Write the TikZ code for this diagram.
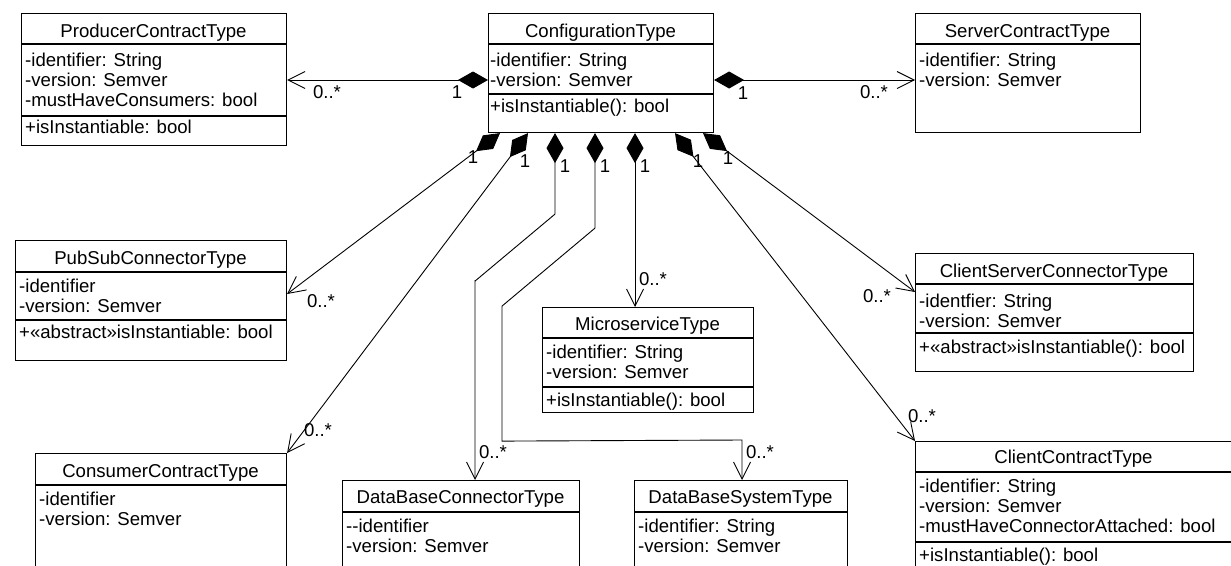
\documentclass[tikz,border=0pt]{standalone}
\usepackage{fontspec}
\setmainfont{Liberation Sans}
\usetikzlibrary{arrows.meta,calc}
\newcommand\umlfont{\fontsize{18.6}{20.3}\selectfont}
\tikzset{
  box/.style={draw, line width=1.1pt, inner sep=0pt, anchor=north west},
  sepline/.style={line width=1.1pt},
  txt/.style={inner sep=0pt, font=\umlfont, anchor=base west},
  ttl/.style={inner sep=0pt, font=\umlfont, anchor=base},
  lbl/.style={inner sep=0pt, font=\umlfont, anchor=center},
  comp/.style={line width=0.9pt,
    {Diamond[length=30pt,width=17pt]}-{Straight Barb[length=17pt,width=17pt]}},
}
% #1 name, #2 x1, #3 y1, #4 x2, #5 y2
\newcommand\umlbox[5]{%
  \node[box, minimum width={(#4-#2)*1pt}, minimum height={(#5-#3)*1pt}] (#1) at (#2,#3) {};}
% #1 prefix, #2 x, #3 first baseline, #4 list
\newcommand\umllines[4]{%
  \foreach \t [count=\i] in {#4}{\node[txt] (#1\i) at (#2,{#3+20.3*(\i-1)}) {\t};}}
\begin{document}
\begin{tikzpicture}[x=1pt,y=-1pt]
\useasboundingbox (0,0) rectangle (1231,565);
\fill[white] (0,0) rectangle (1231,565);

% ProducerContractType
\umlbox{prod}{21}{13}{286}{145}
\draw[sepline] (21,44) -- (286,44); \draw[sepline] (21,116) -- (286,116);
\node[ttl] (prodT) at (153.5,37) {ProducerContractType};
\umllines{prodA}{25}{66}{-identifier: String,-version: Semver,-mustHaveConsumers: bool}
\node[txt] (prodM) at (25,133) {+isInstantiable: bool};

% ConfigurationType
\umlbox{cfg}{488}{13}{713}{132}
\draw[sepline] (488,44) -- (713,44); \draw[sepline] (488,94) -- (713,94);
\node[ttl] (cfgT) at (600.5,37) {ConfigurationType};
\umllines{cfgA}{490}{66}{-identifier: String,-version: Semver}
\node[txt] (cfgM) at (490,112) {+isInstantiable(): bool};

% ServerContractType
\umlbox{srv}{915}{13}{1140}{132}
\draw[sepline] (915,44) -- (1140,44);
\node[ttl] (srvT) at (1027.5,37) {ServerContractType};
\umllines{srvA}{919}{66}{-identifier: String,-version: Semver}

% PubSubConnectorType
\umlbox{pub}{15}{240}{286}{360}
\draw[sepline] (15,272) -- (286,272); \draw[sepline] (15,320) -- (286,320);
\node[ttl] (pubT) at (150.5,264) {PubSubConnectorType};
\umllines{pubA}{19}{292}{-identifier,-version: Semver}
\node[txt] (pubM) at (19,338) {+«abstract»isInstantiable: bool};

% MicroserviceType
\umlbox{mic}{542}{307}{753}{412}
\draw[sepline] (542,338) -- (753,338); \draw[sepline] (542,387) -- (753,387);
\node[ttl] (micT) at (647.5,330) {MicroserviceType};
\umllines{micA}{546}{358}{-identifier: String,-version: Semver}
\node[txt] (micM) at (546,406) {+isInstantiable(): bool};

% ClientServerConnectorType
\umlbox{cs}{915}{253}{1193}{371}
\draw[sepline] (915,284) -- (1193,284); \draw[sepline] (915,333) -- (1193,333);
\node[ttl] (csT) at (1054,277) {ClientServerConnectorType};
\umllines{csA}{919}{307}{-identfier: String,-version: Semver}
\node[txt] (csM) at (919,353) {+«abstract»isInstantiable(): bool};

% ConsumerContractType
\umlbox{con}{35}{453}{286}{600}
\draw[sepline] (35,485) -- (286,485);
\node[ttl] (conT) at (160.5,477) {ConsumerContractType};
\umllines{conA}{39}{505}{-identifier,-version: Semver}

% DataBaseConnectorType
\umlbox{dbc}{342}{480}{579}{600}
\draw[sepline] (342,512) -- (579,512);
\node[ttl] (dbcT) at (460.5,503) {DataBaseConnectorType};
\umllines{dbcA}{346}{532}{{-}{-}identifier,-version: Semver}

% DataBaseSystemType
\umlbox{dbs}{634}{480}{847}{600}
\draw[sepline] (634,512) -- (847,512);
\node[ttl] (dbsT) at (740.5,503) {DataBaseSystemType};
\umllines{dbsA}{638}{532}{-identifier: String,-version: Semver}

% ClientContractType
\umlbox{cc}{915}{441}{1232}{600}
\draw[sepline] (915,472) -- (1232,472); \draw[sepline] (915,542) -- (1232,542);
\node[ttl] (ccT) at (1073.5,463) {ClientContractType};
\umllines{ccA}{919}{492}{-identifier: String,-version: Semver,-mustHaveConnectorAttached: bool}
\node[txt] (ccM) at (919,561) {+isInstantiable(): bool};

% connectors
\draw[comp] ($(cfg.north west)+(0,67)$) -- ($(prod.north east)+(0,67)$);
\draw[comp] ($(cfg.north east)+(0,67)$) -- ($(srv.north west)+(0,67)$);
\draw[comp] ($(cfg.south west)+(12,0)$) -- ($(pub.north east)+(0,54)$);
\draw[comp] ($(cfg.south west)+(40,0)$) -- (con.north east);
\draw[comp] ($(cfg.south west)+(67,0)$) -- ++(0,81) -- ++(-80,67)
  -- ($(dbc.north west)+(133,-200)$) -- ($(dbc.north west)+(133,0)$);
\draw[comp] ($(cfg.south west)+(107,0)$) -- ++(0,95) -- ++(-93,78) -- ++(0,135)
  -- ($(dbs.north west)+(108,-40)$) -- ($(dbs.north west)+(108,0)$);
\draw[comp] ($(cfg.south west)+(147,0)$) -- ($(mic.north west)+(93,0)$);
\draw[comp] ($(cfg.south west)+(187,0)$) -- (cc.north west);
\draw[comp] ($(cfg.south west)+(215,0)$) -- ($(cs.north west)+(0,39)$);

% multiplicities
\node[lbl] (m1) at (457,92) {1};
\node[lbl] (m2) at (327,92) {0..*};
\node[lbl] (m3) at (743,93) {1};
\node[lbl] (m4) at (874,92) {0..*};
\node[lbl] (m5) at (473,157) {1};
\node[lbl] (m6) at (525,161) {1};
\node[lbl] (m7) at (565,166) {1};
\node[lbl] (m8) at (605,166) {1};
\node[lbl] (m9) at (645,166) {1};
\node[lbl] (m10) at (698,161) {1};
\node[lbl] (m11) at (728,158) {1};
\node[lbl] (m12) at (321,301) {0..*};
\node[lbl] (m13) at (318,430) {0..*};
\node[lbl] (m14) at (653,279) {0..*};
\node[lbl] (m15) at (493,452) {0..*};
\node[lbl] (m16) at (760,452) {0..*};
\node[lbl] (m17) at (877,296) {0..*};
\node[lbl] (m18) at (922,416) {0..*};
\end{tikzpicture}
\end{document}
